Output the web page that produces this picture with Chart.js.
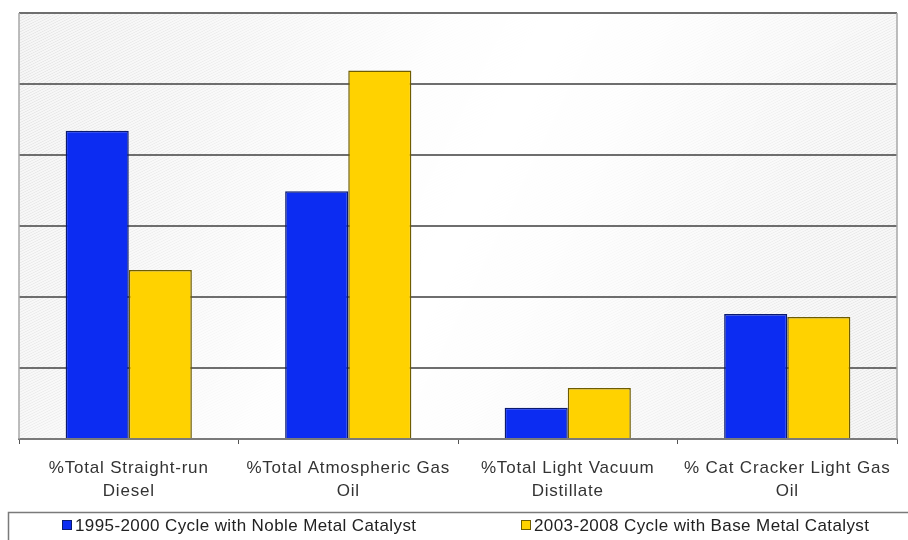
<!DOCTYPE html>
<html>
<head>
<meta charset="utf-8">
<script src="https://cdn.jsdelivr.net/npm/chart.js@4/dist/chart.umd.min.js"></script>
<style>
  html, body { margin: 0; padding: 0; background: #ffffff; }
  #wrap { width: 908px; height: 540px; position: relative; }
</style>
</head>
<body>
<div id="wrap"><canvas id="c" width="908" height="540"></canvas></div>
<script>
// Feed types, one group of bars each
const categories = [
  ['%Total Straight-run', 'Diesel'],
  ['%Total Atmospheric Gas', 'Oil'],
  ['%Total Light Vacuum', 'Distillate'],
  ['% Cat Cracker Light Gas', 'Oil']
];
const seriesNames = [
  '1995-2000 Cycle with Noble Metal Catalyst',
  '2003-2008 Cycle with Base Metal Catalyst'
];
const nobleMetalCycle = [4.34, 3.49, 0.44, 1.76];
const baseMetalCycle = [2.38, 5.19, 0.72, 1.72];
const yTicks = [0, 1, 2, 3, 4, 5, 6];

const FONT = "'Liberation Sans', Arial, sans-serif";
const BLUE = '#0c2cf2', BLUE_EDGE = '#0a1a70';
const GOLD = '#ffd200', GOLD_EDGE = '#6e5c00';

// Diagonal hatch that is strongest in the top-left and bottom-right corners
const hatchBackground = {
  id: 'hatchBackground',
  beforeInit(chart) { chart.ctx.letterSpacing = '0.8px'; },
  beforeDraw(chart) {
    const { ctx, chartArea: a } = chart;
    ctx.letterSpacing = '0.8px';
    const w = Math.round(a.right - a.left), h = Math.round(a.bottom - a.top);
    const off = document.createElement('canvas');
    off.width = w; off.height = h;
    const o = off.getContext('2d');
    o.fillStyle = '#c9c9c9';
    o.fillRect(0, 0, w, h);
    o.strokeStyle = '#f6f6f6';
    o.lineWidth = 2.4;
    const step = 5.5;
    for (let x = -h * 3; x < w + h * 3; x += step) {
      o.beginPath();
      o.moveTo(x, h);
      o.lineTo(x + h * 2.0, 0);
      o.stroke();
    }
    // fade mask along the top-left to bottom-right diagonal
    const g = o.createLinearGradient(0, 0, w, h);
    g.addColorStop(0, 'rgba(0,0,0,1)');
    g.addColorStop(0.2, 'rgba(0,0,0,0.7)');
    g.addColorStop(0.4, 'rgba(0,0,0,0.12)');
    g.addColorStop(0.5, 'rgba(0,0,0,0)');
    g.addColorStop(0.6, 'rgba(0,0,0,0.14)');
    g.addColorStop(0.8, 'rgba(0,0,0,0.7)');
    g.addColorStop(1, 'rgba(0,0,0,1)');
    o.globalCompositeOperation = 'destination-in';
    o.fillStyle = g;
    o.fillRect(0, 0, w, h);
    ctx.save();
    ctx.fillStyle = '#ffffff';
    ctx.fillRect(a.left, a.top, w, h);
    ctx.drawImage(off, a.left, a.top);
    ctx.restore();
  },
  beforeDatasetsDraw(chart) {
    const { ctx, chartArea: a } = chart;
    ctx.save();
    ctx.strokeStyle = '#a8a8a8';
    ctx.lineWidth = 1.5;
    ctx.beginPath();
    ctx.moveTo(a.left, a.bottom);
    ctx.lineTo(a.left, a.top);
    ctx.moveTo(a.right, a.top);
    ctx.lineTo(a.right, a.bottom);
    ctx.stroke();
    ctx.restore();
  }
};

// Boxed legend under the axis labels
const boxedLegend = {
  id: 'boxedLegend',
  afterDraw(chart) {
    const { ctx } = chart;
    ctx.save();
    ctx.letterSpacing = '0.4px';
    ctx.strokeStyle = '#7a7a7a';
    ctx.lineWidth = 1.5;
    ctx.strokeRect(8.5, 512.5, 940, 60);
    const slots = [62, 521];
    ctx.font = '17px ' + FONT;
    ctx.textBaseline = 'middle';
    chart.data.datasets.forEach((ds, i) => {
      const x = slots[i], y = 525;
      ctx.fillStyle = ds.backgroundColor;
      ctx.fillRect(x, y - 5, 10, 10);
      ctx.strokeStyle = ds.borderColor;
      ctx.lineWidth = 1;
      ctx.strokeRect(x + 0.5, y - 4.5, 9, 9);
      ctx.fillStyle = '#222222';
      ctx.fillText(ds.label, x + 13, y + 1);
    });
    ctx.restore();
  }
};

new Chart(document.getElementById('c'), {
  type: 'bar',
  data: {
    labels: categories,
    datasets: [
      { label: seriesNames[0], data: nobleMetalCycle, backgroundColor: BLUE, borderColor: BLUE_EDGE, borderWidth: 1.5 },
      { label: seriesNames[1], data: baseMetalCycle, backgroundColor: GOLD, borderColor: GOLD_EDGE, borderWidth: 1.5 }
    ]
  },
  options: {
    responsive: false,
    animation: false,
    devicePixelRatio: 1,
    layout: { padding: { left: 19, top: 13, right: 11, bottom: 0 } },
    datasets: { bar: { barPercentage: 1, categoryPercentage: 0.575 } },
    plugins: { legend: { display: false }, tooltip: { enabled: false } },
    scales: {
      x: {
        grid: { display: true, drawOnChartArea: false, drawTicks: true, tickLength: 5, color: '#555555', offset: true },
        border: { display: true, color: '#7a7a7a', width: 2 },
        ticks: { font: { family: FONT, size: 17, lineHeight: 1.4 }, color: '#333333', padding: 12, maxRotation: 0, autoSkip: false },
        afterFit(s) { s.height = 101; }
      },
      y: {
        min: yTicks[0],
        max: yTicks[yTicks.length - 1],
        afterBuildTicks(s) { s.ticks = yTicks.map(v => ({ value: v })); },
        ticks: { display: false },
        grid: { color: '#6e6e6e', lineWidth: 2, drawTicks: false },
        border: { display: false },
        afterFit(s) { s.width = 0; }
      }
    }
  },
  plugins: [hatchBackground, boxedLegend]
});
</script>
</body>
</html>
